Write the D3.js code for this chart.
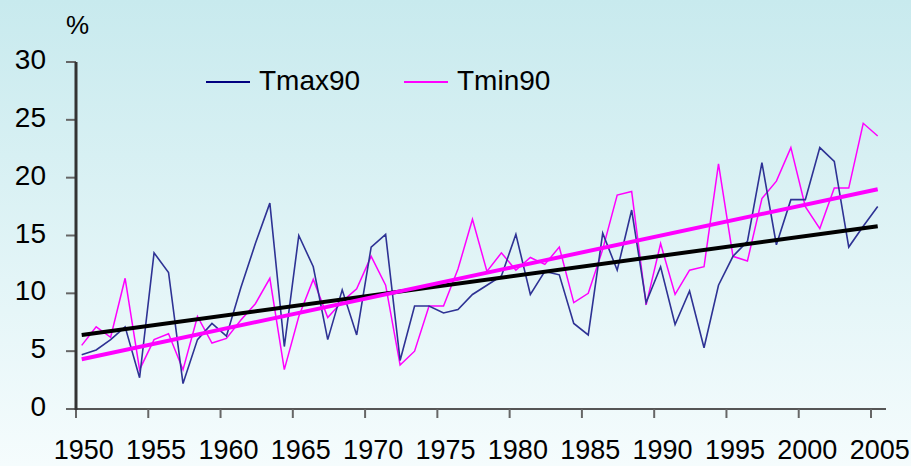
<!DOCTYPE html>
<html>
<head>
<meta charset="utf-8">
<script src="https://cdn.jsdelivr.net/npm/d3@7"></script>
<style>
  html, body { margin: 0; padding: 0; overflow: hidden; }
  text { font-family: "Liberation Sans", Arial, sans-serif; fill: #000; }
</style>
</head>
<body>
<svg width="911" height="466"></svg>
<script>
// years 1950..2005
const years = d3.range(1950, 2006);
const tmax90 = [4.7, 5.1, 6.0, 7.1, 2.7, 13.5, 11.8, 2.2, 6.0, 7.4,
  6.3, 10.5, 14.3, 17.8, 5.4, 15.0, 12.3, 6.0, 10.3, 6.4,
  14.0, 15.1, 4.2, 8.9, 8.9, 8.3, 8.6, 9.9, 10.7, 11.5,
  15.1, 9.9, 11.9, 11.6, 7.4, 6.4, 15.2, 12.0, 17.2, 9.2,
  12.3, 7.3, 10.2, 5.3, 10.7, 13.2, 14.5, 21.3, 14.2, 18.1,
  18.1, 22.6, 21.4, 14.0, 15.8, 17.5];
const tmin90 = [5.5, 7.1, 6.2, 11.3, 3.4, 6.0, 6.5, 3.4, 8.0, 5.7,
  6.1, 7.7, 9.1, 11.3, 3.4, 8.0, 11.2, 7.9, 9.3, 10.4,
  13.2, 10.7, 3.8, 5.0, 8.9, 8.9, 12.1, 16.4, 11.9, 13.5,
  12.0, 13.1, 12.5, 14.0, 9.2, 10.0, 13.8, 18.5, 18.8, 9.0,
  14.3, 9.9, 12.0, 12.3, 21.2, 13.2, 12.8, 18.2, 19.7, 22.6,
  17.5, 15.6, 19.1, 19.1, 24.7, 23.6];
// linear trend end values (1950, 2005)
const tmaxTrend = [6.4, 15.8];
const tminTrend = [4.3, 19.0];
const yTicks = [0, 5, 10, 15, 20, 25, 30];
const xTicks = d3.range(1950, 2006, 5);
const seriesNames = ["Tmax90", "Tmin90"];

const svg = d3.select('svg');

// background gradient
const grad = svg.append('defs').append('linearGradient')
  .attr('id', 'bg').attr('x1', 0).attr('y1', 0).attr('x2', 0).attr('y2', 1);
grad.append('stop').attr('offset', '0%').attr('stop-color', '#c8eaee');
grad.append('stop').attr('offset', '100%').attr('stop-color', '#f5fcfd');
svg.append('rect').attr('width', 911).attr('height', 466).attr('fill', 'url(#bg)');

// scales
const x = d3.scaleLinear().domain([1950, 2005]).range([81.7, 877.7]);
const xTick = d3.scaleLinear().domain([1950, 2005]).range([76, 871]);
const y = d3.scaleLinear().domain([0, 30]).range([409, 62]);

// axes
svg.append('line')
  .attr('x1', 76).attr('x2', 886).attr('y1', y(0)).attr('y2', y(0))
  .attr('stroke', '#555').attr('stroke-width', 2);
svg.selectAll('.xtick').data(xTicks).enter().append('line')
  .attr('x1', d => xTick(d)).attr('x2', d => xTick(d))
  .attr('y1', y(0)).attr('y2', y(0) + 9)
  .attr('stroke', '#666').attr('stroke-width', 2);
svg.selectAll('.xlab').data(xTicks).enter().append('text')
  .attr('x', d => x(d) + 2).attr('y', 459)
  .attr('text-anchor', 'middle')
  .style('font-size', '27px')
  .text(d => d);

svg.selectAll('.ytick').data(yTicks).enter().append('line')
  .attr('x1', 66).attr('x2', 76)
  .attr('y1', d => y(d)).attr('y2', d => y(d))
  .attr('stroke', '#666').attr('stroke-width', 2);
svg.append('line')
  .attr('x1', 76).attr('x2', 76).attr('y1', y(30)).attr('y2', y(0) + 1)
  .attr('stroke', '#333').attr('stroke-width', 3);
svg.selectAll('.ylab').data(yTicks).enter().append('text')
  .attr('x', 46).attr('y', d => y(d) + 7)
  .attr('text-anchor', 'end')
  .style('font-size', '28px')
  .text(d => d);

svg.append('text').attr('x', 66).attr('y', 34)
  .style('font-size', '26px').text('%');

// series lines
const line = d3.line().x((d, i) => x(years[i])).y(d => y(d));
svg.append('path').datum(tmin90).attr('d', line)
  .attr('fill', 'none').attr('stroke', '#ff00ff').attr('stroke-width', 1.5);
svg.append('path').datum(tmax90).attr('d', line)
  .attr('fill', 'none').attr('stroke', '#2e3294').attr('stroke-width', 1.6);

// trend lines
const trendYears = [1950, 2005];
const tline = d3.line().x((d, i) => x(trendYears[i])).y(d => y(d));
svg.append('path').datum(tmaxTrend).attr('d', tline)
  .attr('stroke', '#000').attr('stroke-width', 4);
svg.append('path').datum(tminTrend).attr('d', tline)
  .attr('stroke', '#ff00ff').attr('stroke-width', 4);

// legend
const legend = svg.selectAll('.leg').data(seriesNames).enter().append('g')
  .attr('transform', (d, i) => `translate(${206 + i * 198},82)`);
legend.append('line')
  .attr('x1', 0).attr('x2', 44).attr('y1', 0).attr('y2', 0)
  .attr('stroke', (d, i) => i === 0 ? '#000080' : '#ff00ff')
  .attr('stroke-width', 2);
legend.append('text')
  .attr('x', 53).attr('y', 8)
  .style('font-size', '28px')
  .text(d => d);
</script>
</body>
</html>
